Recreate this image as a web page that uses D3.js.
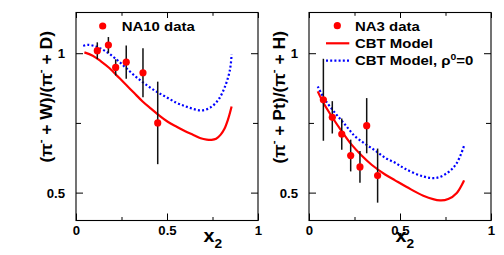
<!DOCTYPE html>
<html><head><meta charset="utf-8">
<script src="https://cdn.jsdelivr.net/npm/d3@7"></script>
<style>
body{margin:0;background:#fff}
svg{display:block}
text{font-family:"Liberation Sans",Arial,Helvetica,sans-serif;font-weight:bold;fill:#000}
</style>
</head><body>
<svg id="c" width="504" height="255"></svg>
<script>
// ---- tick values ----
const xTicksMajor = [0, 0.5, 1];
const xTicksMinor = [0.25, 0.75];
const yTicksMajor = [0.5, 1];
const yTicksMinor = [0.75];
const yDomain = [0.4, 1.146];

// ---- left panel: NA10 data (pi- + W)/(pi- + D) ----
const na10X   = [0.117, 0.178, 0.218, 0.276, 0.368, 0.449];
const na10Y   = [1.009, 1.029, 0.949, 0.968, 0.930, 0.750];
const na10Err = [0.030, 0.029, 0.029, 0.060, 0.088, 0.148];

const leftCbtX = [0.046,0.092,0.137,0.183,0.229,0.275,0.320,0.366,0.412,0.458,0.504,0.553,0.600,0.645,0.685,0.718,0.745,0.770,0.795,0.815,0.835,0.855];
const leftCbtY = [1.003,0.991,0.971,0.947,0.917,0.887,0.857,0.827,0.801,0.776,0.754,0.736,0.720,0.707,0.695,0.690,0.689,0.693,0.708,0.728,0.762,0.809];

const leftRhoX = [0.040,0.064,0.110,0.165,0.220,0.275,0.330,0.385,0.440,0.495,0.553,0.600,0.645,0.691,0.736,0.782,0.819,0.846,0.855];
const leftRhoY = [1.026,1.030,1.024,1.006,0.979,0.947,0.915,0.887,0.863,0.843,0.822,0.810,0.800,0.795,0.804,0.833,0.881,0.941,0.995];

// ---- right panel: NA3 data (pi- + Pt)/(pi- + H) ----
const na3X   = [0.079, 0.128, 0.180, 0.229, 0.280, 0.317, 0.377];
const na3Y   = [0.833, 0.770, 0.710, 0.633, 0.592, 0.740, 0.561];
const na3Err = [0.147, 0.058, 0.056, 0.057, 0.057, 0.099, 0.097];

const rightCbtX = [0.048,0.079,0.125,0.180,0.234,0.289,0.344,0.418,0.473,0.537,0.628,0.720,0.765,0.812,0.852];
const rightCbtY = [0.863,0.822,0.773,0.720,0.672,0.633,0.600,0.565,0.544,0.520,0.489,0.472,0.477,0.499,0.544];

const rightRhoX = [0.048,0.088,0.143,0.198,0.253,0.308,0.363,0.418,0.473,0.530,0.628,0.701,0.765,0.812,0.852];
const rightRhoY = [0.881,0.833,0.786,0.744,0.702,0.675,0.651,0.625,0.607,0.585,0.558,0.553,0.573,0.606,0.668];

const legendLeft  = ["NA10 data"];
const legendRight = ["NA3 data", "CBT Model", "CBT Model, ρ", "0", "=0"];

// ---- drawing ----
const svg = d3.select("#c");
const T = 12.5, B = 220.5;
const y = d3.scaleLinear().domain(yDomain).range([B, T]);

function stext(g, x, yy, str, size, sx, anchor) {
  return g.append("text")
    .attr("transform", `translate(${x},${yy}) scale(${sx},1)`)
    .attr("font-size", size)
    .attr("text-anchor", anchor || "start")
    .text(str);
}
function fixLabels(g, sx) {
  g.selectAll("text").each(function () {
    const t = d3.select(this);
    const x = +t.attr("x") || 0, yy = +t.attr("y") || 0;
    t.attr("x", null).attr("y", null)
     .attr("transform", `translate(${x},${yy}) scale(${sx},1)`);
  });
}

function panel(L, R, pts, cbt, rho) {
  const x = d3.scaleLinear().domain([0, 1]).range([L, R]);
  const g = svg.append("g");

  const fmt = d3.format("");
  const ax = [];
  ax.push(g.append("g").attr("transform", `translate(0,${B})`)
    .call(d3.axisBottom(x).tickValues(xTicksMajor).tickSize(-7).tickPadding(6).tickFormat(fmt)));
  ax.push(g.append("g").attr("transform", `translate(0,${B})`)
    .call(d3.axisBottom(x).tickValues(xTicksMinor).tickSize(-3.5).tickFormat("")));
  ax.push(g.append("g").attr("transform", `translate(0,${T})`)
    .call(d3.axisTop(x).tickValues(xTicksMajor).tickSize(-5.5).tickFormat("")));
  ax.push(g.append("g").attr("transform", `translate(0,${T})`)
    .call(d3.axisTop(x).tickValues(xTicksMinor).tickSize(-3.3).tickFormat("")));
  ax.push(g.append("g").attr("transform", `translate(${L},0)`)
    .call(d3.axisLeft(y).tickValues(yTicksMajor).tickSize(-7).tickPadding(11).tickFormat(fmt)));
  ax.push(g.append("g").attr("transform", `translate(${L},0)`)
    .call(d3.axisLeft(y).tickValues(yTicksMinor).tickSize(-5).tickFormat("")));
  ax.push(g.append("g").attr("transform", `translate(${R},0)`)
    .call(d3.axisRight(y).tickValues(yTicksMajor).tickSize(-7).tickFormat("")));
  ax.push(g.append("g").attr("transform", `translate(${R},0)`)
    .call(d3.axisRight(y).tickValues(yTicksMinor).tickSize(-5).tickFormat("")));
  ax.forEach(a => {
    a.select(".domain").remove();
    a.attr("font-size", 12).attr("font-family", null);
    a.selectAll("line").attr("stroke", "#000");
    a.selectAll("text").filter(function () { return this.textContent === ""; }).remove();
    fixLabels(a, 1.1);
  });
  ax[4].selectAll("text").attr("dy", "0.38em");

  // frame
  g.append("rect").attr("x", L).attr("y", T).attr("width", R - L).attr("height", B - T)
    .attr("fill", "none").attr("stroke", "#000").attr("stroke-width", 1.1);

  // curves
  const line = d3.line().x(d => x(d[0])).y(d => y(d[1])).curve(d3.curveCatmullRom);
  g.append("path").attr("d", line(d3.zip(rho[0], rho[1])))
    .attr("fill", "none").attr("stroke", "#0000ff").attr("stroke-width", 2.2)
    .attr("stroke-dasharray", "2,2.2");
  g.append("path").attr("d", line(d3.zip(cbt[0], cbt[1])))
    .attr("fill", "none").attr("stroke", "#ff0000").attr("stroke-width", 2.2);

  // data points
  const data = d3.zip(pts[0], pts[1], pts[2]);
  g.selectAll(".eb").data(data).join("line")
    .attr("x1", d => x(d[0])).attr("x2", d => x(d[0]))
    .attr("y1", d => y(d[1] - d[2])).attr("y2", d => y(d[1] + d[2]))
    .attr("stroke", "#111").attr("stroke-width", 1.5);
  g.selectAll(".pt").data(data).join("circle")
    .attr("cx", d => x(d[0])).attr("cy", d => y(d[1])).attr("r", 3.6)
    .attr("fill", "#ff0000");
  return {x, g};
}

const P1 = panel(76, 258, [na10X, na10Y, na10Err], [leftCbtX, leftCbtY], [leftRhoX, leftRhoY]);
const P2 = panel(309, 491, [na3X, na3Y, na3Err], [rightCbtX, rightCbtY], [rightRhoX, rightRhoY]);

function xTitle(xpos) {
  const t = svg.append("text")
    .attr("transform", `translate(${xpos},241.7) scale(1.1,1)`)
    .attr("font-size", 18);
  t.append("tspan").text("x");
  t.append("tspan").attr("font-size", 12.5).attr("dy", 6.5).text("2");
}
xTitle(P1.x(0.70));
xTitle(P2.x(0.475));

function yTitle(xpos, a, b) {
  const t = svg.append("text")
    .attr("transform", `translate(${xpos},31) rotate(-90) scale(1.03,1)`)
    .attr("font-size", 17).attr("text-anchor", "end");
  t.append("tspan").text("(π");
  t.append("tspan").attr("font-size", 11).attr("dy", -8).text("-");
  t.append("tspan").attr("dy", 8).text(" + " + a + ")/(π");
  t.append("tspan").attr("font-size", 11).attr("dy", -8).text("-");
  t.append("tspan").attr("dy", 8).text(" + " + b + ")");
}
yTitle(52, "W", "D");
yTitle(285, "Pt", "H");

// legends
const LS = 13, LX = 1.15;
svg.append("circle").attr("cx", 102.7).attr("cy", 26).attr("r", 3.6).attr("fill", "#ff0000");
stext(svg, 121.7, 30.7, legendLeft[0], LS, LX);

svg.append("circle").attr("cx", 337.3).attr("cy", 25.7).attr("r", 3.6).attr("fill", "#ff0000");
stext(svg, 355, 30.7, legendRight[0], LS, LX);
svg.append("line").attr("x1", 326).attr("x2", 349.3).attr("y1", 43.3).attr("y2", 43.3)
  .attr("stroke", "#ff0000").attr("stroke-width", 2.2);
stext(svg, 355, 47.7, legendRight[1], LS, LX);
svg.append("line").attr("x1", 326).attr("x2", 349.3).attr("y1", 60.7).attr("y2", 60.7)
  .attr("stroke", "#0000ff").attr("stroke-width", 2.2).attr("stroke-dasharray", "2,2.2");
const lt = stext(svg, 355, 65, legendRight[2], LS, LX);
lt.append("tspan").attr("font-size", 9).attr("dy", -5.5).text(legendRight[3]);
lt.append("tspan").attr("dy", 5.5).text(legendRight[4]);
</script>
</body></html>
